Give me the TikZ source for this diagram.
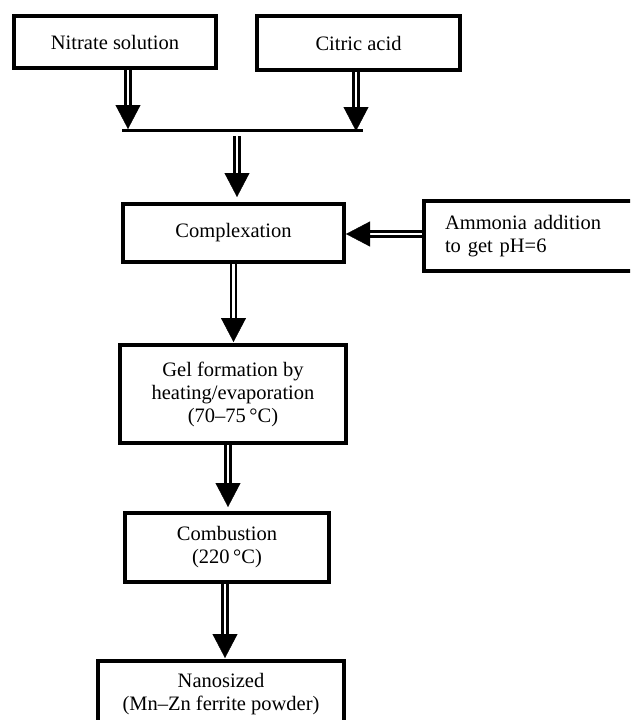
\documentclass[tikz,border=0pt]{standalone}
\usepackage{fontspec}
\setmainfont{Liberation Serif}
\usetikzlibrary{arrows.meta,calc}
\newcommand{\figfont}{\fontsize{20.5}{23}\selectfont}
\newcommand{\dblarrow}[2]{\draw[shaft] (#1) -- (#2); \draw[head] ($(#2)!2pt!(#1)$) -- (#2);}
\begin{document}
\begin{tikzpicture}[x=1pt,y=-1pt,
  box/.style={draw, line width=4pt, inner sep=0pt, font=\figfont, align=center},
  shaft/.style={line width=2.2pt, double=white, double distance=2.8pt, shorten >=20pt},
  head/.style={-{Triangle[length=24pt,width=25pt]}, line width=0.4pt},
  bar/.style={line width=3pt}]
\useasboundingbox (0,0) rectangle (630,720);
\clip (0,0) rectangle (630,720);

\node[box, minimum width=202, minimum height=52] (nit) at (115,42) {Nitrate solution};
\node[box, minimum width=203, minimum height=54] (cit) at (358.5,43) {Citric acid};
\node[box, minimum width=221, minimum height=58] (compl) at (233.5,233) {Complexation};
\node[box, align=left, inner xsep=21pt, text width=182pt, minimum height=70] (amm) at (536,236) {Ammonia addition\\to get pH=6};
\node[box, minimum width=226, minimum height=98] (gel) at (233,394) {Gel formation by\\heating/evaporation\\(70--75\,°C)};
\node[box, minimum width=204, minimum height=69] (comb) at (227,547.5) {Combustion\\(220\,°C)};
\node[box, minimum width=246, minimum height=66] (nano) at (221,694) {Nanosized\\(Mn--Zn ferrite powder)};

\coordinate (barL) at (122,130);
\coordinate (barR) at (363,130);
\draw[bar] (barL) -- (barR);

\coordinate (s1) at ([xshift=13pt]nit.south);
\coordinate (t1) at (128,129);
\coordinate (s2) at ([xshift=-2.5pt]cit.south);
\coordinate (t2) at (356,131);
\coordinate (s3) at (237,136);
\coordinate (t3) at ([xshift=3.5pt,yshift=5pt]compl.north);
\coordinate (s4) at ([yshift=2pt]amm.west);
\coordinate (t4) at (s4 -| compl.east);
\coordinate (s5) at (compl.south);
\coordinate (t5) at ([xshift=0.5pt,yshift=1pt]gel.north);
\coordinate (s6) at ([xshift=-5pt]gel.south);
\coordinate (t6) at ([xshift=1pt,yshift=4pt]comb.north);
\coordinate (s7) at ([xshift=-2pt]comb.south);
\coordinate (t7) at ([xshift=4pt,yshift=1pt]nano.north);

\dblarrow{s1}{t1}
\dblarrow{s2}{t2}
\dblarrow{s3}{t3}
\dblarrow{s4}{t4}
\dblarrow{s5}{t5}
\dblarrow{s6}{t6}
\dblarrow{s7}{t7}
\end{tikzpicture}
\end{document}
